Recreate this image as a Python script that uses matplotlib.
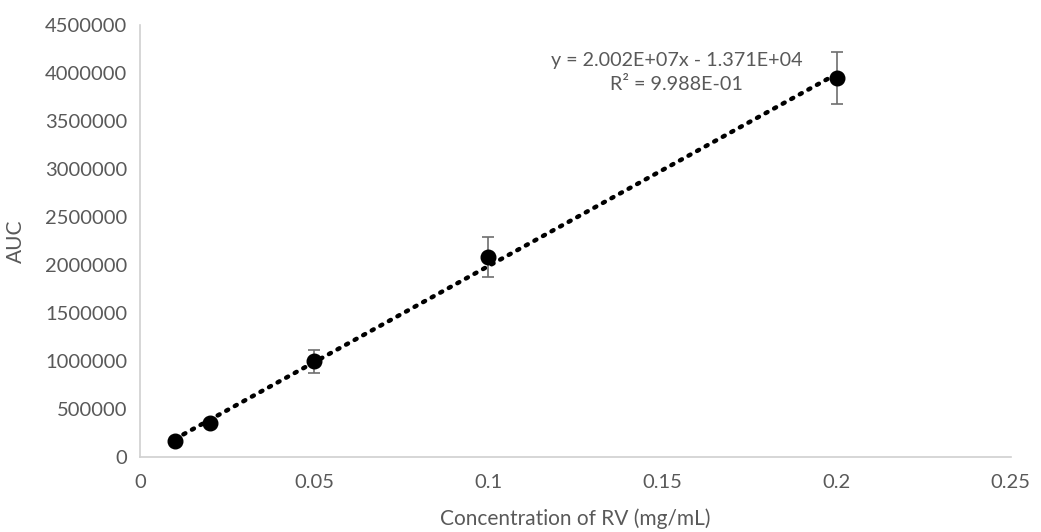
import matplotlib
matplotlib.use("Agg")
import matplotlib.pyplot as plt
import numpy as np

plt.rcParams['font.family'] = ['Lato', 'DejaVu Sans']

conc = [0.01, 0.02, 0.05, 0.1, 0.2]
auc = [167000, 354000, 995000, 2080000, 3950000]
err = [8000, 10000, 120000, 208000, 272000]
slope = 2.002e7
intercept = -1.371e4
eq_text = "y = 2.002E+07x - 1.371E+04\nR² = 9.988E-01"

xticks = [0, 0.05, 0.1, 0.15, 0.2, 0.25]
xticklabels = ["0", "0.05", "0.1", "0.15", "0.2", "0.25"]
yticks = list(range(0, 4500001, 500000))

gray = '#595959'
fig = plt.figure(figsize=(10.41, 5.32), dpi=100)
ax = fig.add_axes([0.1345, 0.141, 0.8365, 0.812])

ax.errorbar(conc, auc, yerr=err, fmt='o', color='black', markersize=10.5,
            ecolor='#6e6e6e', elinewidth=1.2, capsize=4.5, capthick=1.2, zorder=3)
xs = np.array([min(conc), max(conc)])
ax.plot(xs, slope * xs + intercept, linestyle=(0, (0.5, 1.7)), color='black',
        linewidth=3.2, dash_capstyle='round', zorder=2)

ax.text(0.1541, 4005000, eq_text, ha='center', va='center', fontsize=14.2,
        color=gray, linespacing=1.45)

ax.set_xlim(0, 0.25)
ax.set_ylim(0, 4500000)
ax.set_xticks(xticks)
ax.set_xticklabels(xticklabels)
ax.set_yticks(yticks)
ax.set_yticklabels([str(v) for v in yticks])
ax.tick_params(length=0, labelsize=14.5, colors=gray, pad=9)
ax.tick_params(axis='x', pad=12)
for s in ['top', 'right']:
    ax.spines[s].set_visible(False)
for s in ['left', 'bottom']:
    ax.spines[s].set_color('#d0d0d0')
    ax.spines[s].set_linewidth(1.2)

ax.set_xlabel("Concentration of RV (mg/mL)", fontsize=15, color=gray, labelpad=13)
ax.set_ylabel("AUC", fontsize=15, color=gray, labelpad=14)

fig.savefig("out.png", dpi=100)
